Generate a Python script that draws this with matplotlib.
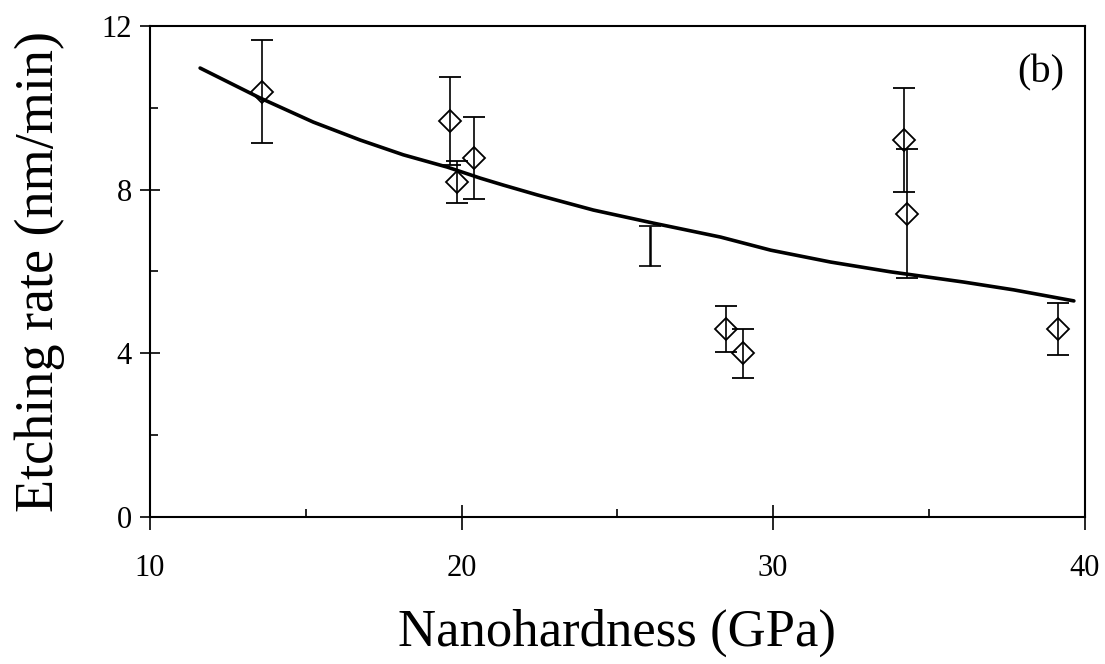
import matplotlib
matplotlib.use("Agg")
import matplotlib.pyplot as plt
from matplotlib.ticker import MultipleLocator

plt.rcParams['font.family'] = ['Liberation Serif', 'DejaVu Serif']

# measured points (diamonds) with error bars
hardness = [13.6, 19.64, 19.86, 20.41, 28.5, 29.02, 34.19, 34.29, 39.14]
rate = [10.39, 9.68, 8.19, 8.78, 4.6, 4.0, 9.22, 7.41, 4.6]
rate_err = [1.26, 1.08, 0.52, 1.0, 0.56, 0.6, 1.27, 1.57, 0.63]

# point drawn only as an error bar (no marker)
bar_only_x = [26.06]
bar_only_y = [6.62]
bar_only_err = [0.48]

# fitted curve
fit_x = [11.61, 13.53, 15.24, 16.75, 18.13, 19.54, 20.60, 21.34, 22.43, 24.23,
         26.16, 28.31, 29.92, 31.84, 33.77, 36.12, 37.72, 39.65]
fit_y = [10.97, 10.24, 9.65, 9.21, 8.85, 8.55, 8.28, 8.11, 7.87, 7.50,
         7.18, 6.84, 6.52, 6.23, 5.99, 5.74, 5.55, 5.28]

fig = plt.figure(figsize=(11.05, 6.64), dpi=100)
ax = fig.add_axes([0.1357, 0.2214, 0.846, 0.7396])

ax.plot(fit_x, fit_y, color='black', lw=2.6, solid_capstyle='round', zorder=3)
ax.errorbar(hardness, rate, yerr=rate_err, fmt='D', mfc='none', mec='black',
            ms=11, mew=1.3, ecolor='black', elinewidth=1.2, capsize=8,
            capthick=1.2, zorder=4)
ax.errorbar(bar_only_x, bar_only_y, yerr=bar_only_err, fmt='none',
            ecolor='black', elinewidth=1.8, capsize=8, capthick=1.2, zorder=4)

ax.set_xlim(10, 40)
ax.set_ylim(0, 12)
ax.xaxis.set_major_locator(MultipleLocator(10))
ax.xaxis.set_minor_locator(MultipleLocator(5))
ax.yaxis.set_major_locator(MultipleLocator(4))
ax.yaxis.set_minor_locator(MultipleLocator(2))
ax.tick_params(which='major', direction='inout', length=18, width=1.2,
               labelsize=22)
ax.tick_params(axis='x', which='major', pad=18)
ax.tick_params(axis='y', which='major', length=14, pad=6)
ax.tick_params(which='minor', direction='in', length=6, width=1.2)
for s in ax.spines.values():
    s.set_linewidth(1.5)

ax.set_xlabel('Nanohardness (GPa)', fontsize=38, labelpad=18)
ax.set_ylabel('Etching rate (nm/min)', fontsize=39, labelpad=26)
ax.text(0.978, 0.905, '(b)', transform=ax.transAxes, ha='right', va='center',
        fontsize=29)

fig.savefig('out.png', dpi=100)
